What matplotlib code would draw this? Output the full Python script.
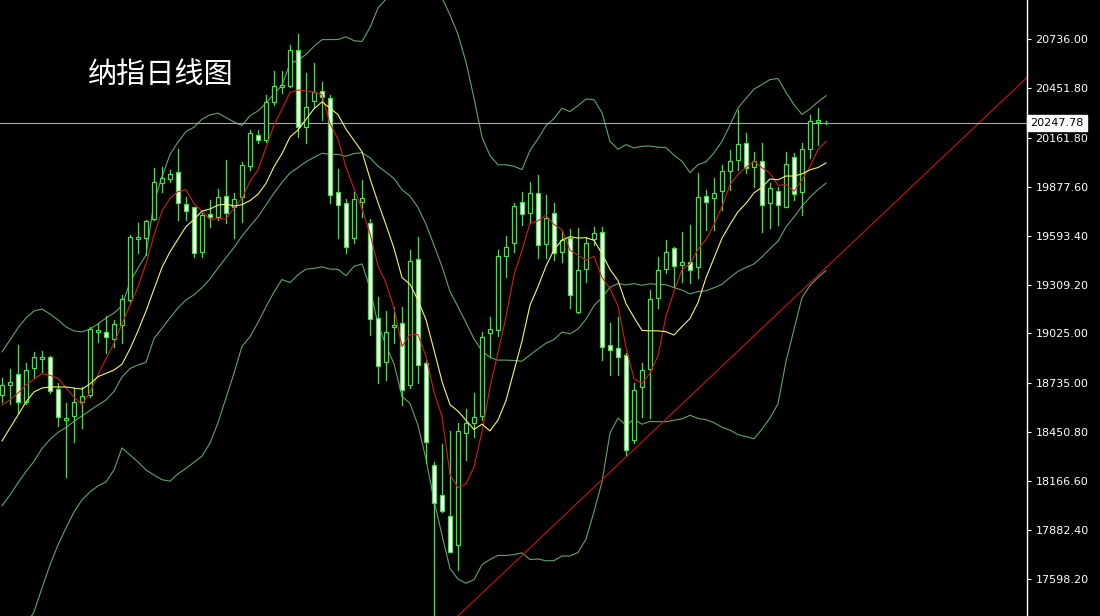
import numpy as np
import pandas as pd
import matplotlib.pyplot as plt
from matplotlib.patches import Rectangle

# Daily candles (index 0 = first visible bar)
opens = [18668, 18726, 18790, 18627, 18825, 18877, 18889, 18703, 18522, 18546,
         18627, 18668, 19034, 19034, 18993, 19074, 19220, 19574, 19580, 19690,
         19900, 19923, 19964, 19778, 19760, 19499, 19720, 19702, 19824, 19760,
         19818, 19998, 20179, 20150, 20370, 20457, 20463, 20673, 20225, 20376,
         20434, 20394, 19847, 19783, 19580, 19789, 19667, 19115, 18859, 19063,
         19086, 18726, 19458, 18854, 18261, 18087, 17965, 17796, 18447, 18505,
         18546, 19028, 19045, 19475, 19551, 19789, 19725, 19842, 19545, 19725,
         19499, 19580, 19150, 19400, 19574, 19615, 18958, 18941, 18900, 18406,
         18714, 18819, 19231, 19400, 19522, 19423, 19441, 19411, 19824, 19812,
         19853, 19969, 20033, 20132, 19993, 20027, 19783, 19853, 19760, 20051,
         19847, 20097, 20254, 20250]
highs = [18766, 18819, 18958, 18854, 18918, 18923, 18894, 18737, 18621, 18708,
         18714, 19063, 19086, 19127, 19104, 19249, 19597, 19667, 19685, 19987,
         19993, 19975, 20097, 19818, 19760, 19725, 19801, 19865, 20033, 19842,
         20022, 20208, 20208, 20411, 20550, 20550, 20702, 20766, 20539, 20597,
         20487, 20411, 19981, 19807, 19847, 19917, 19690, 19237, 19156, 19179,
         19179, 19510, 19586, 18871, 18278, 18383, 18458, 18505, 18586, 18679,
         19034, 19121, 19510, 19592, 19783, 19847, 19905, 19946, 19830, 19783,
         19627, 19632, 19638, 19586, 19644, 19644, 19086, 19121, 18912, 18737,
         18854, 19278, 19470, 19568, 19528, 19615, 19656, 19958, 19859, 19929,
         20004, 20091, 20324, 20190, 20080, 20132, 19900, 19876, 20080, 20074,
         20132, 20295, 20335, 20262]
lows = [18627, 18615, 18563, 18615, 18766, 18801, 18679, 18488, 18191, 18395,
        18476, 18656, 18976, 18912, 18947, 18970, 19208, 19493, 19481, 19685,
        19847, 19905, 19685, 19685, 19470, 19470, 19644, 19685, 19667, 19580,
        19673, 19975, 20132, 20138, 20353, 20423, 20457, 20167, 20132, 20341,
        20266, 19783, 19580, 19493, 19551, 19702, 19016, 18737, 18755, 18970,
        18610, 18708, 18737, 18273, 17331, 17988, 17755, 17651, 18290, 18424,
        18522, 18889, 19010, 19353, 19499, 19656, 19667, 19464, 19464, 19452,
        19441, 19173, 19144, 19324, 19539, 18871, 18784, 18784, 18319, 18389,
        18540, 18534, 19173, 19377, 19295, 19324, 19318, 19348, 19627, 19627,
        19743, 19859, 19975, 19958, 19876, 19615, 19638, 19656, 19760, 19801,
        19714, 20045, 20120, 20240]
closes = [18726, 18743, 18627, 18813, 18889, 18889, 18691, 18540, 18534, 18627,
          18662, 19051, 19045, 19005, 19080, 19226, 19586, 19586, 19679, 19905,
          19929, 19952, 19783, 19737, 19493, 19714, 19702, 19818, 19725, 19807,
          20004, 20190, 20150, 20370, 20463, 20469, 20673, 20225, 20341, 20428,
          20399, 19830, 19772, 19528, 19807, 19812, 19109, 18836, 19034, 19074,
          18697, 19446, 18842, 18395, 18040, 17994, 17755, 18458, 18505, 18540,
          19005, 19051, 19475, 19528, 19766, 19720, 19842, 19539, 19696, 19493,
          19568, 19249, 19394, 19551, 19609, 18947, 18929, 18889, 18348, 18697,
          18813, 19226, 19394, 19499, 19417, 19441, 19394, 19818, 19789, 19842,
          19969, 20027, 20126, 19987, 20027, 19772, 19870, 19772, 20010, 19836,
          20097, 20260, 20266, 20247.78]

# indicator values on the first bars (their windows start before the visible data)
ma5_head = [18610, 18639, 18679, 18726]
ma10_head = [18400, 18476, 18551, 18627, 18685, 18708, 18714, 18714, 18714]
bb_up_head = [18918, 18987, 19057, 19115, 19156, 19167, 19138, 19104, 19063, 19040,
              19034, 19051, 19080, 19115, 19144, 19185, 19324, 19406, 19481]
bb_lo_head = [17128, 17186, 17256, 17331, 17407, 17546, 17680, 17796, 17895, 17988,
              18058, 18104, 18139, 18162, 18232, 18360, 18319, 18278, 18232]

# trend line anchors (bar index, price)
trend_x = [57, 78]
trend_y = [17383, 18307]

last_price = 20247.78
y_ticks = [17598.2, 17882.4, 18166.6, 18450.8, 18735.0, 19025.0,
           19309.2, 19593.4, 19877.6, 20161.8, 20451.8, 20736.0]

# Moving averages and Bollinger bands (20, 2)
close_s = pd.Series(closes)
ma5 = close_s.rolling(5).mean()
ma5.iloc[:4] = ma5_head
ma10 = close_s.rolling(10).mean()
ma10.iloc[:9] = ma10_head
bb_mid = close_s.rolling(20).mean()
bb_std = close_s.rolling(20).std(ddof=0)
bb_up = bb_mid + 2 * bb_std
bb_lo = bb_mid - 2 * bb_std
bb_up.iloc[:19] = bb_up_head
bb_lo.iloc[:19] = bb_lo_head
bb_mid.iloc[:19] = (np.array(bb_up_head) + np.array(bb_lo_head)) / 2

fig = plt.figure(figsize=(11, 6.16), dpi=100, facecolor='black')
ax = fig.add_axes([0, 0, 1027 / 1100, 1])
ax.set_facecolor('black')

x = np.arange(len(closes))
green = '#33ee33'
band_col = '#62a26e'

# Bollinger bands
ax.plot(x, bb_up, color=band_col, lw=0.8, zorder=1)
ax.plot(x, bb_mid, color=band_col, lw=0.8, zorder=1)
ax.plot(x, bb_lo, color=band_col, lw=0.8, zorder=1)

# Candles
for i in x:
    o, h, l, c = opens[i], highs[i], lows[i], closes[i]
    ax.plot([i, i], [l, h], color=green, lw=0.9, zorder=2)
    bottom = min(o, c)
    height = max(abs(c - o), 1.5)
    face = 'black' if c >= o else 'white'
    ax.add_patch(Rectangle((i - 0.3, bottom), 0.6, height, facecolor=face,
                           edgecolor=green, lw=0.9, zorder=3))

# Moving averages
ax.plot(x, ma5, color='#d21c1c', lw=0.8, zorder=4)
ax.plot(x, ma10, color='#f5f565', lw=0.8, zorder=4)

# Trend line and last price line
ax.axline((trend_x[0], trend_y[0]), (trend_x[1], trend_y[1]), color='#c81414', lw=0.8, zorder=1)
ax.axhline(last_price, color='#a8a8a8', lw=0.8, zorder=1)

ax.set_xlim(-0.25, 128.125)
ax.set_ylim(17383, 20963)
for side in ['left', 'top', 'bottom']:
    ax.spines[side].set_visible(False)
ax.spines['right'].set_color('white')
ax.spines['right'].set_linewidth(1.0)
ax.set_xticks([])
ax.yaxis.tick_right()
ax.set_yticks(y_ticks)
ax.set_yticklabels(['%.2f' % v for v in y_ticks])
ax.tick_params(axis='y', colors='white', length=3, width=0.8, labelsize=8, pad=3)

# Price tag
ax.text(1.003, last_price, '%.2f' % last_price, transform=ax.get_yaxis_transform(),
        ha='left', va='center', fontsize=8, color='black',
        bbox=dict(boxstyle='square,pad=0.3', facecolor='white', edgecolor='white'))

fig.text(88 / 1100, 1 - 75 / 616, '纳指日线图', color='white', fontsize=21,
         va='center', ha='left', family=['Noto Sans CJK SC', 'DejaVu Sans'])

fig.savefig('out.png', dpi=100, facecolor='black')
